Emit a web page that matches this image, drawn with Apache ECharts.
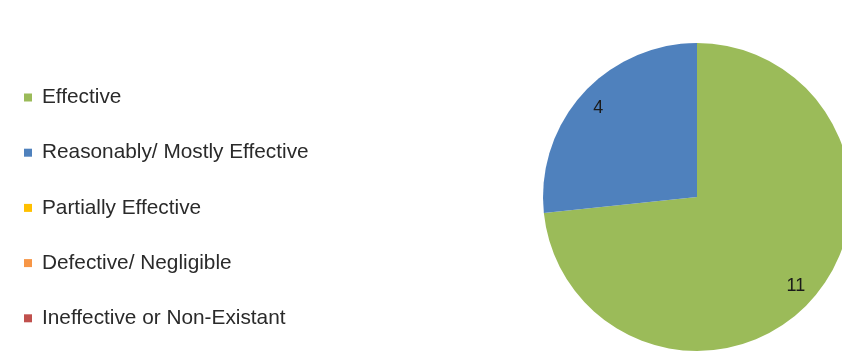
<!DOCTYPE html>
<html>
<head>
<meta charset="utf-8">
<script src="https://cdn.jsdelivr.net/npm/echarts@6/dist/echarts.min.js"></script>
<style>
  html, body { margin: 0; padding: 0; background: #ffffff; }
  #chart { width: 842px; height: 353px; }
</style>
</head>
<body>
<div id="chart"></div>
<script>
// Rating categories and the number of controls in each
const categories = [
  'Effective',
  'Reasonably/ Mostly Effective',
  'Partially Effective',
  'Defective/ Negligible',
  'Ineffective or Non-Existant'
];
const counts = [11, 4, 0, 0, 0];
const palette = ['#9BBB59', '#4F81BD', '#FFC000', '#F79646', '#C0504D'];

const pieData = categories.map((name, i) => ({ name: name, value: counts[i] }));

const chart = echarts.init(document.getElementById('chart'), null, { renderer: 'canvas' });

chart.setOption({
  animation: false,
  color: palette,
  legend: {
    data: categories,
    orient: 'vertical',
    left: 24,
    top: 87,
    padding: 0,
    itemGap: 34.2,
    itemWidth: 8,
    itemHeight: 8,
    icon: 'rect',
    selectedMode: false,
    textStyle: {
      fontFamily: 'Liberation Sans, Arial, sans-serif',
      fontSize: 20.8,
      lineHeight: 21,
      color: '#2a2a2a',
      padding: [0, 0, 0, 5]
    }
  },
  series: [
    {
      // filled pie
      type: 'pie',
      center: [697, 197],
      radius: [0, 154],
      startAngle: 90,
      clockwise: true,
      silent: true,
      label: { show: false },
      labelLine: { show: false },
      itemStyle: { borderWidth: 0 },
      data: pieData
    },
    {
      // transparent ring that carries the value labels near the rim
      type: 'pie',
      center: [697, 197],
      radius: [106, 154],
      startAngle: 90,
      clockwise: true,
      silent: true,
      itemStyle: { color: 'rgba(0,0,0,0)', borderWidth: 0 },
      label: {
        show: true,
        position: 'inside',
        fontFamily: 'Liberation Sans, Arial, sans-serif',
        fontSize: 18,
        color: '#1a1a1a',
        formatter: p => (p.value > 0 ? String(p.value) : '')
      },
      labelLine: { show: false },
      data: pieData
    }
  ]
});
</script>
</body>
</html>
